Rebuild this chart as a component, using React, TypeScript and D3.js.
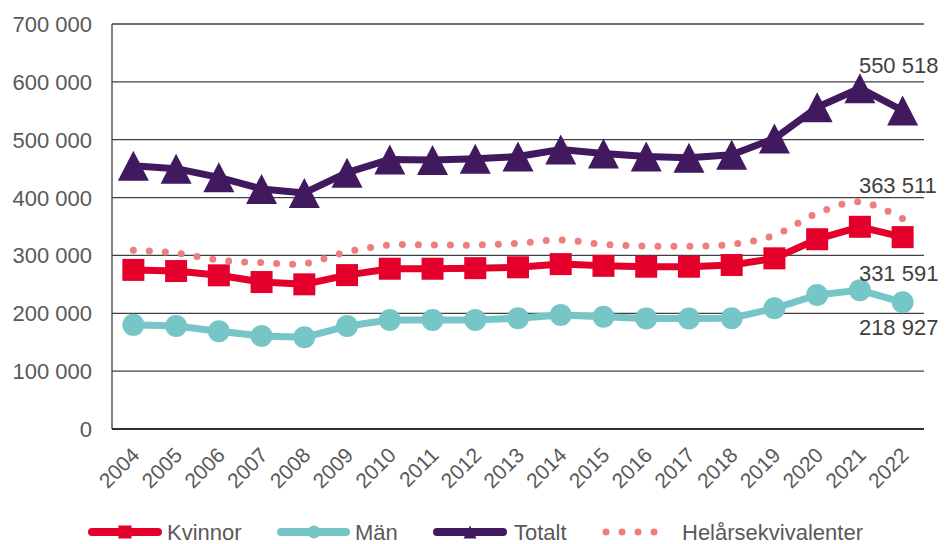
import React from "react";
import * as d3 from "d3";

const years = ["2004","2005","2006","2007","2008","2009","2010","2011","2012","2013","2014","2015","2016","2017","2018","2019","2020","2021","2022"];
const kvinnor = [275000,273000,265600,254000,250000,266000,277000,277000,278000,279500,285000,282000,280500,280500,283400,295000,328000,349500,331591];
const man = [180000,178000,169000,160700,158500,178000,188400,188400,188600,191300,197000,194000,191000,191000,191500,208600,231600,240000,218927];
const totalt = [455000,450000,435000,415000,408000,443000,466000,465000,467000,471000,483000,476000,471000,469000,474000,502000,556000,589000,550518];
const helar = [309000,304000,292000,287500,286000,306000,318000,318000,318000,321000,326700,319000,316000,316000,319000,335000,372800,392800,363511];
const yTicks = [0,100000,200000,300000,400000,500000,600000,700000];
const valueLabels = [
  { text: "550 518", year: "2021", y: 73 },
  { text: "363 511", year: "2021", y: 193 },
  { text: "331 591", year: "2021", y: 281 },
  { text: "218 927", year: "2021", y: 335 },
];

const RED = "#E4002B";
const TEAL = "#76C6C8";
const PURPLE = "#41195E";
const SALMON = "#EE7D7D";
const GRID = "#404040";
const TXT = "#595959";
const FONT = "'Liberation Sans', Arial, sans-serif";

const fmt = (v: number) => {
  if (v === 0) return "0";
  const s = String(v);
  return s.slice(0, s.length - 3) + " " + s.slice(-3);
};

export default function App() {
  const W = 945, H = 544;
  const left = 112, right = 924, top = 24, bottom = 429;
  const x = d3.scaleBand<string>().domain(years).range([left, right]);
  const cx = (yr: string) => (x(yr) as number) + x.bandwidth() / 2;
  const y = d3.scaleLinear().domain([0, 700000]).range([bottom, top]);

  const line = d3.line<number>().x((_, i) => cx(years[i])).y((d) => y(d));
  const smooth = d3.line<number>().x((_, i) => cx(years[i])).y((d) => y(d)).curve(d3.curveCatmullRom.alpha(0.5));

  const tri = (px: number, py: number, w: number, h: number) =>
    `M${px},${py - h / 2}L${px + w / 2},${py + h / 2}L${px - w / 2},${py + h / 2}Z`;

  const legendY = 532;

  return (
    <svg width={W} height={H} style={{ position: "absolute", left: 0, top: 0, background: "#fff" }} fontFamily={FONT}>
      {yTicks.map((t) => (
        <line key={t} x1={left} x2={right} y1={y(t)} y2={y(t)} stroke={GRID} strokeWidth={1.3} />
      ))}
      <line x1={left} x2={left} y1={top} y2={bottom} stroke={GRID} strokeWidth={1.3} />
      <line x1={left} x2={right} y1={bottom} y2={bottom} stroke="#1a1a1a" strokeWidth={1.5} />
      {yTicks.map((t) => (
        <text key={"l" + t} x={92} y={y(t) + 8} textAnchor="end" fontSize={22} fill={TXT}>{fmt(t)}</text>
      ))}
      {years.map((yr) => (
        <text key={"x" + yr} transform={`translate(${cx(yr) - 3},${446}) rotate(-45)`} textAnchor="end" fontSize={21} fill={TXT} dy="0.7em">{yr}</text>
      ))}

      <path d={line(kvinnor) || ""} fill="none" stroke={RED} strokeWidth={7} strokeLinejoin="round" />
      {kvinnor.map((v, i) => (
        <rect key={"k" + i} x={cx(years[i]) - 11} y={y(v) - 11} width={22} height={22} fill={RED} />
      ))}
      <path d={line(man) || ""} fill="none" stroke={TEAL} strokeWidth={7} strokeLinejoin="round" />
      {man.map((v, i) => (
        <circle key={"m" + i} cx={cx(years[i])} cy={y(v)} r={11} fill={TEAL} />
      ))}
      <path d={line(totalt) || ""} fill="none" stroke={PURPLE} strokeWidth={7} strokeLinejoin="round" />
      {totalt.map((v, i) => (
        <path key={"t" + i} d={tri(cx(years[i]), y(v), 31, 30)} fill={PURPLE} />
      ))}
      <path d={smooth(helar) || ""} fill="none" stroke={SALMON} strokeWidth={7} strokeLinecap="round" strokeDasharray="0 16" />

      {valueLabels.map((l) => (
        <text key={l.text} x={cx(l.year) - 1} y={l.y} fontSize={22} fill="#404040">{l.text}</text>
      ))}

      <g fontSize={22} fill={TXT}>
        <line x1={92} x2={158} y1={legendY} y2={legendY} stroke={RED} strokeWidth={8} strokeLinecap="round" />
        <rect x={125 - 6.5} y={legendY - 6.5} width={13} height={13} fill={RED} />
        <text x={167} y={legendY + 8}>Kvinnor</text>

        <line x1={281} x2={346} y1={legendY} y2={legendY} stroke={TEAL} strokeWidth={8} strokeLinecap="round" />
        <circle cx={314} cy={legendY} r={6.5} fill={TEAL} />
        <text x={355} y={legendY + 8}>Män</text>

        <line x1={437} x2={503} y1={legendY} y2={legendY} stroke={PURPLE} strokeWidth={8} strokeLinecap="round" />
        <path d={tri(470, legendY, 13, 13)} fill={PURPLE} />
        <text x={514} y={legendY + 8}>Totalt</text>

        <line x1={606} x2={670} y1={legendY} y2={legendY} stroke={SALMON} strokeWidth={7} strokeLinecap="round" strokeDasharray="0 16" />
        <text x={682} y={legendY + 8}>Helårsekvivalenter</text>
      </g>
    </svg>
  );
}
